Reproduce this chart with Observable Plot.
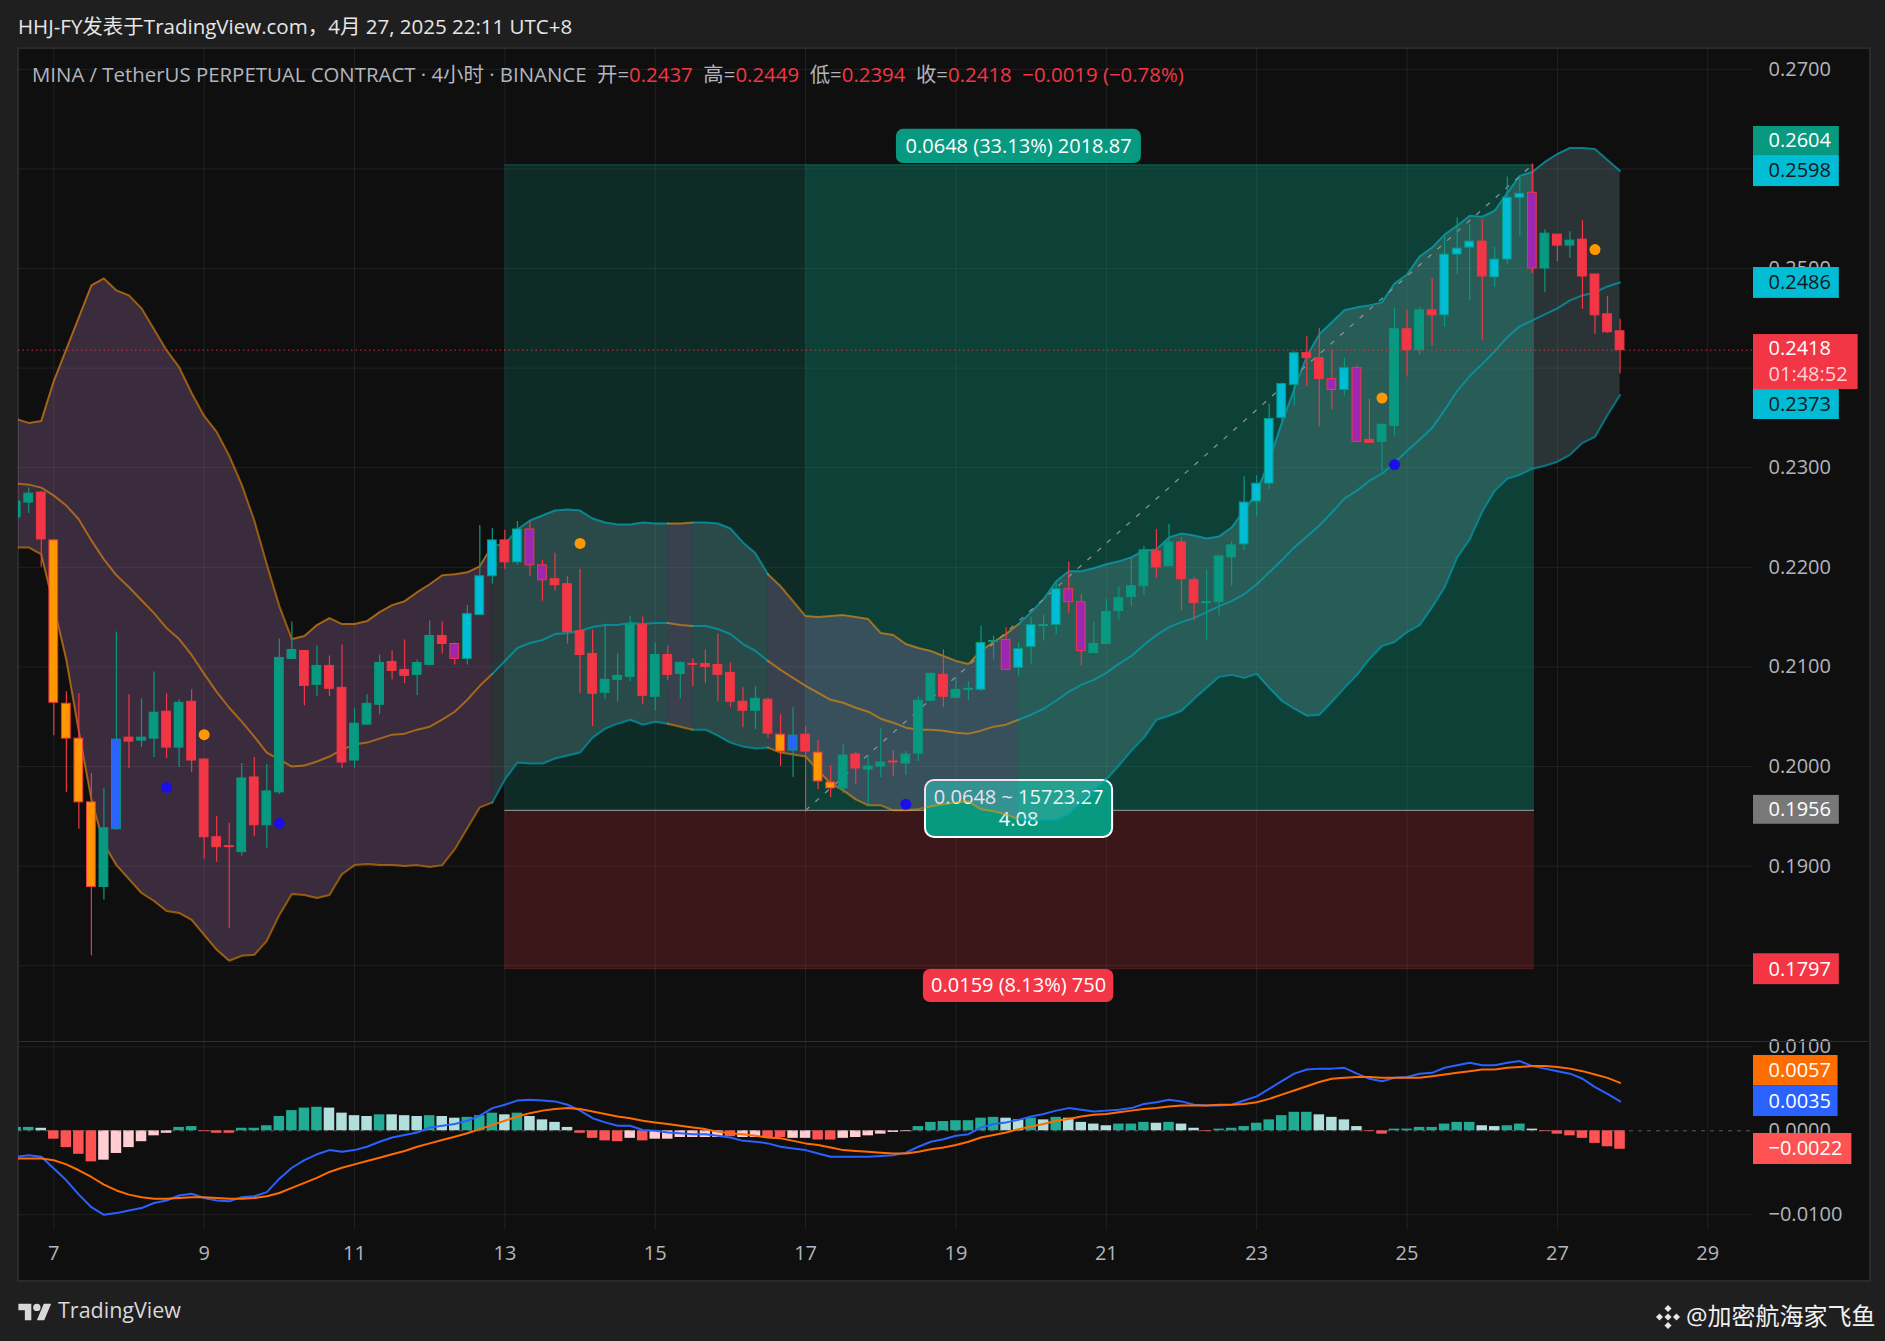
<!DOCTYPE html>
<html><head><meta charset="utf-8">
<script src="https://cdn.jsdelivr.net/npm/d3@7"></script>
<script src="https://cdn.jsdelivr.net/npm/@observablehq/plot@0.6"></script>
<style>
html,body{margin:0;padding:0;background:#1f1f1f;overflow:hidden}
#root{position:relative;width:1885px;height:1341px;background:#1f1f1f;font-family:"Open Sans","Noto Sans CJK SC",sans-serif}
#pane{position:absolute;left:17px;top:47px;width:1850px;height:1231px;background:#0f0f0f;border:2px solid #2a2a2a}
#root svg.plot-abs{position:absolute;left:0}
.txt{position:absolute;white-space:pre}
</style></head><body>
<div id="root"><div id="pane"></div></div>
<script>
// index 0 = 00:00 on the 7th, one step = one 4-hour candle; first candle is index -3
const firstIndex = -3;
const high = [
.2266,.2280,.2276,.2228,.2075,.2073,.1993,.1978,.2135,.2072,
.2068,.2095,.2073,.2067,.2077,.2007,.1950,.1943,.2003,.2009,
.2002,.2128,.2145,.2116,.2121,.2111,.2122,.2058,.2072,.2112,
.2116,.2127,.2107,.2146,.2145,.2124,.2162,.2242,.2239,.2237,
.2246,.2246,.2207,.2214,.2191,.2198,.2137,.2143,.2113,.2151,
.2150,.2124,.2121,.2105,.2108,.2117,.2133,.2104,.2079,.2080,
.2069,.2052,.2059,.2040,.2026,.2001,.2022,.2014,.2011,.2038,
.2016,.2015,.2070,.2094,.2117,.2089,.2085,.2141,.2131,.2139,
.2124,.2150,.2152,.2184,.2205,.2173,.2145,.2168,.2180,.2210,
.2221,.2238,.2243,.2230,.2190,.2197,.2211,.2226,.2291,.2292,
.2364,.2385,.2417,.2432,.2440,.2418,.2410,.2402,.2369,.2344,
.2460,.2458,.2461,.2490,.2533,.2551,.2544,.2549,.2521,.2592,
.2593,.2605,.2539,.2534,.2537,.2548,.2494,.2472,.2449];
const bodyTop = [
.2266,.2274,.2275,.2227,.2063,.2028,.1964,.1938,.2027,.2029,
.2029,.2054,.2055,.2064,.2065,.2007,.1929,.1920,.1988,.1989,
.1975,.2109,.2117,.2116,.2101,.2101,.2079,.2043,.2063,.2104,
.2105,.2097,.2104,.2131,.2131,.2123,.2153,.2191,.2227,.2227,
.2238,.2238,.2202,.2188,.2183,.2136,.2113,.2087,.2091,.2142,
.2142,.2112,.2112,.2104,.2103,.2103,.2102,.2094,.2065,.2068,
.2067,.2032,.2031,.2032,.2014,.1984,.2011,.2012,.2000,.2004,
.2005,.2012,.2066,.2093,.2092,.2077,.2078,.2124,.2126,.2127,
.2118,.2142,.2142,.2178,.2178,.2165,.2123,.2155,.2169,.2181,
.2217,.2216,.2225,.2225,.2187,.2165,.2211,.2222,.2265,.2284,
.2349,.2384,.2415,.2415,.2410,.2389,.2400,.2400,.2328,.2343,
.2439,.2439,.2458,.2458,.2514,.2520,.2527,.2527,.2509,.2571,
.2575,.2576,.2535,.2534,.2528,.2529,.2494,.2454,.2437];
const bodyBottom = [
.2250,.2265,.2228,.2064,.2028,.1964,.1879,.1879,.1937,.2025,
.2026,.2028,.2019,.2019,.2006,.1929,.1919,.1919,.1914,.1941,
.1941,.1974,.2108,.2081,.2082,.2078,.2004,.2006,.2042,.2062,
.2096,.2091,.2092,.2102,.2123,.2108,.2108,.2152,.2191,.2205,
.2205,.2202,.2187,.2182,.2135,.2112,.2073,.2074,.2087,.2090,
.2071,.2070,.2092,.2093,.2102,.2100,.2092,.2065,.2056,.2056,
.2033,.2015,.2016,.2015,.1985,.1978,.1978,.1998,.1997,.2000,
.2004,.2003,.2013,.2066,.2070,.2069,.2077,.2077,.2125,.2097,
.2099,.2120,.2141,.2142,.2165,.2116,.2114,.2123,.2156,.2170,
.2181,.2200,.2201,.2188,.2164,.2164,.2165,.2210,.2223,.2266,
.2284,.2350,.2383,.2410,.2389,.2378,.2378,.2326,.2325,.2326,
.2342,.2418,.2418,.2453,.2453,.2514,.2521,.2492,.2491,.2509,
.2571,.2500,.2500,.2523,.2523,.2492,.2453,.2436,.2418];
const low = [
.2250,.2254,.2200,.2031,.1974,.1937,.1810,.1866,.1936,.1998,
.2019,.2009,.2008,.1999,.1994,.1907,.1904,.1837,.1910,.1930,
.1918,.1972,.2108,.2061,.2070,.2070,.1998,.1998,.2042,.2052,
.2087,.2083,.2071,.2101,.2113,.2102,.2102,.2152,.2183,.2198,
.2202,.2191,.2166,.2176,.2123,.2073,.2040,.2067,.2065,.2085,
.2062,.2056,.2086,.2068,.2080,.2083,.2065,.2059,.2039,.2037,
.2028,.2000,.1989,.1954,.1977,.1969,.1973,.1982,.1961,.1989,
.1990,.1991,.2005,.2066,.2059,.2068,.2066,.2075,.2107,.2097,
.2091,.2103,.2126,.2132,.2154,.2101,.2114,.2123,.2147,.2161,
.2172,.2189,.2201,.2156,.2147,.2127,.2151,.2181,.2217,.2251,
.2278,.2347,.2362,.2381,.2341,.2358,.2372,.2325,.2325,.2296,
.2332,.2391,.2413,.2422,.2441,.2494,.2468,.2428,.2481,.2504,
.2532,.2495,.2476,.2507,.2510,.2459,.2434,.2435,.2394];
// g green, r red, o orange, b blue, c cyan, m purple
const candleKinds = (
 "g g r o o o o g b r "+
 "g g r g r r r r g r "+
 "g g g r g r r g g g "+
 "r r g g r m c c c r "+
 "c m m r r r r g g g "+
 "r g r g r r r r r g "+
 "r o b r o o g r g g "+
 "r g g g r g g c c m "+
 "c c g c m m g g g g "+
 "g r g r r g g g c c "+
 "c c c r r m c m r g "+
 "g r g r c c c r c c "+
 "c m g r g r r r r").trim().split(/\s+/);

const bandUpper = [
.2349,.2345,.2347,.2387,.2419,.2451,.2483,.2490,.2478,.2473,
.2460,.2439,.2418,.2401,.2375,.2352,.2336,.2312,.2283,.2247,
.2203,.2161,.2128,.2131,.2142,.2149,.2143,.2143,.2146,.2155,
.2162,.2166,.2175,.2183,.2192,.2193,.2195,.2201,.2222,.2223,
.2238,.2247,.2252,.2257,.2258,.2257,.2249,.2245,.2243,.2243,
.2245,.2244,.2244,.2244,.2245,.2245,.2244,.2239,.2225,.2214,
.2193,.2181,.2166,.2151,.2150,.2151,.2152,.2150,.2148,.2134,
.2132,.2123,.2119,.2116,.2111,.2106,.2103,.2116,.2125,.2133,
.2143,.2155,.2168,.2186,.2196,.2196,.2199,.2203,.2206,.2210,
.2217,.2218,.2230,.2234,.2232,.2229,.2231,.2240,.2257,.2275,
.2307,.2345,.2379,.2412,.2434,.2446,.2458,.2461,.2463,.2466,
.2485,.2494,.2512,.2521,.2534,.2543,.2553,.2552,.2558,.2576,
.2593,.2597,.2607,.2615,.2621,.2621,.2620,.2609,.2598];
const bandMid = [
.2284,.2283,.2280,.2272,.2262,.2248,.2227,.2208,.2192,.2180,
.2167,.2154,.2139,.2128,.2112,.2093,.2075,.2059,.2045,.2030,
.2014,.2007,.2000,.2001,.2005,.2010,.2017,.2022,.2024,.2028,
.2032,.2033,.2037,.2040,.2047,.2055,.2067,.2081,.2093,.2106,
.2119,.2124,.2127,.2133,.2134,.2136,.2140,.2142,.2142,.2144,
.2143,.2144,.2144,.2142,.2141,.2141,.2138,.2133,.2123,.2116,
.2106,.2097,.2089,.2081,.2074,.2067,.2064,.2059,.2055,.2048,
.2044,.2039,.2037,.2037,.2036,.2034,.2033,.2036,.2040,.2042,
.2047,.2052,.2058,.2066,.2075,.2082,.2087,.2094,.2103,.2111,
.2122,.2132,.2140,.2145,.2149,.2155,.2161,.2166,.2173,.2183,
.2195,.2207,.2220,.2231,.2242,.2255,.2269,.2277,.2287,.2294,
.2305,.2317,.2328,.2340,.2358,.2377,.2392,.2404,.2417,.2431,
.2442,.2448,.2454,.2460,.2468,.2473,.2476,.2482,.2486];
const bandLower = [
.2220,.2220,.2213,.2161,.2107,.2035,.1967,.1922,.1901,.1887,
.1873,.1865,.1855,.1853,.1846,.1831,.1816,.1805,.1810,.1811,
.1825,.1851,.1872,.1871,.1868,.1871,.1892,.1901,.1902,.1901,
.1901,.1900,.1901,.1899,.1901,.1917,.1938,.1959,.1964,.1987,
.2004,.2003,.2003,.2008,.2011,.2014,.2029,.2038,.2043,.2047,
.2042,.2045,.2043,.2040,.2037,.2037,.2031,.2024,.2020,.2018,
.2019,.2014,.2012,.2010,.1996,.1983,.1976,.1967,.1961,.1961,
.1956,.1956,.1957,.1960,.1962,.1964,.1965,.1957,.1955,.1952,
.1947,.1946,.1946,.1946,.1952,.1964,.1976,.1987,.2001,.2016,
.2029,.2047,.2051,.2056,.2068,.2079,.2090,.2092,.2089,.2093,
.2079,.2066,.2058,.2051,.2052,.2065,.2079,.2092,.2108,.2121,
.2125,.2135,.2142,.2160,.2180,.2210,.2228,.2256,.2277,.2289,
.2293,.2299,.2302,.2306,.2313,.2325,.2331,.2353,.2373];
// [first index, last index, state] of each colour run of the band
const bandRuns = [[-3,35,"warm"],[35,49,"cool"],[49,51,"warm"],[51,57,"cool"],[57,77,"warm"],[77,125,"cool"]];

const macdHist = [
.0004,.0004,.0003,-.0010,-.0020,-.0028,-.0037,-.0035,-.0027,-.0020,
-.0013,-.0006,-.0003,.0004,.0005,-.0001,-.0003,-.0003,.0003,.0003,
.0006,.0017,.0024,.0027,.0028,.0027,.0021,.0018,.0017,.0019,
.0019,.0018,.0017,.0018,.0017,.0015,.0016,.0018,.0021,.0019,
.0021,.0017,.0013,.0010,.0004,-.0003,-.0009,-.0012,-.0013,-.0009,
-.0012,-.0010,-.0010,-.0008,-.0008,-.0008,-.0008,-.0007,-.0008,-.0008,
-.0008,-.0008,-.0009,-.0009,-.0011,-.0011,-.0009,-.0008,-.0006,-.0004,
-.0002,-.0001,.0005,.0010,.0011,.0012,.0012,.0015,.0016,.0015,
.0013,.0015,.0013,.0016,.0015,.0010,.0008,.0006,.0008,.0008,
.0010,.0009,.0010,.0008,.0003,-.0001,.0002,.0003,.0005,.0009,
.0013,.0018,.0022,.0022,.0019,.0016,.0013,.0005,-.0001,-.0004,
.0002,.0002,.0004,.0004,.0008,.0010,.0010,.0006,.0005,.0006,
.0008,.0002,-.0001,-.0004,-.0006,-.0009,-.0015,-.0019,-.0022];
const histKinds = (
 "g g l r r r r p p p "+
 "p p p g g r r r g g "+
 "g g g g g l l l l g "+
 "l l l g l l g g g l "+
 "g l l l l r r r r p "+
 "r p p p p p p r p p "+
 "r r p p r r p p p p "+
 "p p g g g g g g g l "+
 "l g l g l l l l g g "+
 "g l g l l r g g g g "+
 "g g g g l l l l r r "+
 "g g g g g g g l l g "+
 "g l r r r r r r r").trim().split(/\s+/);
const macdLine = [
-.0031,-.0029,-.0031,-.0045,-.0059,-.0076,-.0091,-.0100,-.0098,-.0095,
-.0092,-.0086,-.0083,-.0077,-.0075,-.0080,-.0083,-.0084,-.0079,-.0078,
-.0073,-.0057,-.0044,-.0035,-.0028,-.0023,-.0025,-.0023,-.0019,-.0013,
-.0008,-.0005,-.0002,.0004,.0006,.0008,.0012,.0018,.0027,.0031,
.0036,.0037,.0036,.0035,.0031,.0024,.0015,.0010,.0006,.0006,
.0001,.0000,-.0002,-.0003,-.0004,-.0004,-.0006,-.0008,-.0012,-.0013,
-.0015,-.0019,-.0021,-.0023,-.0027,-.0031,-.0031,-.0031,-.0031,-.0030,
-.0029,-.0026,-.0019,-.0013,-.0010,-.0006,-.0004,.0004,.0008,.0010,
.0013,.0017,.0020,.0024,.0027,.0025,.0023,.0024,.0025,.0027,
.0032,.0034,.0037,.0035,.0031,.0030,.0030,.0031,.0036,.0041,
.0050,.0059,.0068,.0073,.0074,.0074,.0075,.0068,.0062,.0059,
.0063,.0064,.0068,.0069,.0075,.0078,.0081,.0078,.0078,.0081,
.0083,.0077,.0074,.0071,.0068,.0062,.0052,.0044,.0035];
const signalLine = [
-.0033,-.0033,-.0033,-.0035,-.0040,-.0047,-.0055,-.0064,-.0071,-.0076,
-.0079,-.0081,-.0081,-.0080,-.0079,-.0079,-.0080,-.0081,-.0081,-.0080,
-.0078,-.0074,-.0068,-.0062,-.0056,-.0049,-.0044,-.0040,-.0036,-.0032,
-.0028,-.0024,-.0019,-.0015,-.0011,-.0007,-.0003,.0002,.0007,.0012,
.0017,.0021,.0024,.0026,.0027,.0026,.0023,.0020,.0017,.0015,
.0012,.0010,.0008,.0006,.0004,.0002,-.0001,-.0003,-.0004,-.0006,
-.0008,-.0009,-.0012,-.0015,-.0017,-.0020,-.0023,-.0024,-.0025,-.0026,
-.0027,-.0027,-.0025,-.0022,-.0020,-.0017,-.0013,-.0008,-.0005,-.0002,
.0002,.0005,.0008,.0012,.0014,.0017,.0019,.0020,.0022,.0024,
.0026,.0027,.0029,.0030,.0030,.0030,.0031,.0031,.0032,.0034,
.0038,.0043,.0048,.0053,.0058,.0062,.0063,.0064,.0064,.0063,
.0063,.0063,.0063,.0065,.0067,.0069,.0071,.0073,.0073,.0075,
.0076,.0077,.0077,.0076,.0074,.0071,.0067,.0063,.0057];

const orangeSignals = [[12,.2032],[42,.2224],[106,.2370],[123,.2519]];
const blueSignals = [[9,.1979],[18,.1943],[68,.1962],[107,.2303]];

const targetPrice = .2604, entryPrice = .1956, stopPrice = .1797, lastPrice = .2418;
const positionStart = 36, positionMid = 60, positionEnd = 118.17;

const priceTicks = [.18,.19,.20,.21,.22,.23,.24,.25,.26,.27];
const priceLabelTicks = [.19,.20,.21,.22,.23,.25,.27];
const macdTicks = [.01,0,-.01];
const dayTicks = [0,12,24,36,48,60,72,84,96,108,120,132];

const priceChips = [
 {t:"0.2604",a:.26426,b:.26135,fill:"#089981",ink:"#ffffff"},
 {t:"0.2598",a:.26135,b:.25823,fill:"#00bcd4",ink:"#131722"},
 {t:"0.2486",a:.25010,b:.24700,fill:"#00bcd4",ink:"#131722"},
 {t:"0.2373",a:.23785,b:.23484,fill:"#00bcd4",ink:"#131722"},
 {t:"0.1956",a:.19710,b:.19420,fill:"#787878",ink:"#ffffff"},
 {t:"0.1797",a:.18120,b:.17810,fill:"#f23645",ink:"#ffffff"}
];
const macdChips = [
 {t:"0.0057",a:.00896,b:.00532,fill:"#ff6d00",ink:"#ffffff",r:142.4},
 {t:"0.0035",a:.00527,b:.00170,fill:"#2962ff",ink:"#ffffff",r:142.4},
 {t:"\u22120.0022",a:-.00032,b:-.00401,fill:"#ff5252",ink:"#ffffff",r:143.5}
];

// ---- geometry shared by both panes
const xLeft = -2.817, xRight = 135.65, chipL = 135.65, chipR = 142.5, chipText = 136.85;
const W = 1885;
const bars = high.map((h,k)=>({i:k+firstIndex,high:h,top:bodyTop[k],bottom:bodyBottom[k],low:low[k],kind:candleKinds[k]}));
const bodyFill = {g:"#089981",r:"#f23645",o:"#ff9800",b:"#2962ff",c:"#00bcd4",m:"#9c27b0"};
const bodyEdge = {g:"#089981",r:"#f23645",o:"#f23645",b:"#089981",c:"#089981",m:"#f23645"};
const histFill = {g:"#22ab94",l:"#b2dfdb",r:"#ff5252",p:"#ffcdd2"};
const bandRows = bandRuns.flatMap(([a,b,s],n)=>bandUpper.map((u,k)=>({i:k+firstIndex,u,m:bandMid[k],l:bandLower[k],run:n,state:s})).filter(d=>d.i>=a&&d.i<=b));
const warm = d=>d.state==="warm"?"#ff9800":"#00a5b8";
const bandLineOpacity = d=>d.state==="warm"?.55:.68;
const gridStroke = "#ffffff";
const fontFamily = '"Open Sans","Noto Sans CJK SC",sans-serif';

const mainPlot = Plot.plot({
  width:W,height:994,marginTop:0,marginBottom:0,marginLeft:18,marginRight:132,
  x:{domain:[xLeft,xRight],axis:null},
  y:{domain:[.17229,.27209]},
  color:{type:"identity"},
  style:{background:"transparent",fontFamily,fontSize:"20px",overflow:"visible"},
  marks:[
    Plot.ruleY(priceTicks,{x1:xLeft,x2:xRight,stroke:gridStroke,strokeOpacity:.075}),
    Plot.ruleX(dayTicks,{stroke:gridStroke,strokeOpacity:.075}),
    // position zones
    Plot.rect([0],{x1:()=>positionStart,x2:()=>positionEnd,y1:()=>entryPrice,y2:()=>targetPrice,fill:"#089981",fillOpacity:.2}),
    Plot.rect([0],{x1:()=>positionMid,x2:()=>positionEnd,y1:()=>entryPrice,y2:()=>targetPrice,fill:"#089981",fillOpacity:.2}),
    Plot.rect([0],{x1:()=>positionStart,x2:()=>positionEnd,y1:()=>stopPrice,y2:()=>entryPrice,fill:"#f23645",fillOpacity:.2}),
    Plot.ruleY([targetPrice],{x1:positionStart,x2:positionEnd,stroke:"#089981",strokeOpacity:.45}),
    Plot.ruleY([stopPrice],{x1:positionStart,x2:positionEnd,stroke:"#f23645",strokeOpacity:.3}),
    Plot.ruleY([entryPrice],{x1:positionStart,x2:positionEnd,stroke:"#7f8a88",strokeWidth:1.2}),
    // position labels
    Plot.rect([0],{x1:()=>67.25,x2:()=>86.8,y1:()=>.26397,y2:()=>.26055,fill:"#089981",rx:7}),
    Plot.text(["0.0648 (33.13%) 2018.87"],{x:77,y:.26228,text:d=>d,fill:"#fff",fontSize:20}),
    Plot.rect([0],{x1:()=>69.4,x2:()=>84.6,y1:()=>.17962,y2:()=>.17631,fill:"#f23645",rx:7}),
    Plot.text(["0.0159 (8.13%) 750"],{x:77,y:.17797,text:d=>d,fill:"#fff",fontSize:20}),
    Plot.rect([0],{x1:()=>69.57,x2:()=>84.5,y1:()=>.19860,y2:()=>.19288,fill:"#089981",stroke:"#fff",strokeWidth:2,rx:9}),
    Plot.text(["0.0648 ~ 15723.27"],{x:77,y:.19685,text:d=>d,fill:"#fff",fontSize:20}),
    Plot.text(["4.08"],{x:77,y:.19465,text:d=>d,fill:"#fff",fontSize:20}),
    // Bollinger band
    Plot.areaY(bandRows,{x:"i",y1:"l",y2:"u",z:"run",fill:d=>d.state==="warm"?"#bb7fc7":"#96c8d2",fillOpacity:d=>d.state==="warm"?.25:.2,clip:true}),
    Plot.line(bandRows,{x:"i",y:"u",z:"run",stroke:warm,strokeOpacity:bandLineOpacity,strokeWidth:2,clip:true}),
    Plot.line(bandRows,{x:"i",y:"m",z:"run",stroke:warm,strokeOpacity:bandLineOpacity,strokeWidth:2,clip:true}),
    Plot.line(bandRows,{x:"i",y:"l",z:"run",stroke:warm,strokeOpacity:bandLineOpacity,strokeWidth:2,clip:true}),
    // diagonal of the position tool
    Plot.link([0],{x1:()=>positionMid,x2:()=>118,y1:()=>entryPrice,y2:()=>targetPrice,stroke:"#8f9694",strokeWidth:1.2,strokeDasharray:"5 8"}),
    // candles
    Plot.ruleX(bars,{x:"i",y1:"low",y2:"high",stroke:d=>bodyEdge[d.kind],strokeWidth:1.2,clip:true}),
    Plot.rect(bars,{x1:d=>d.i-.35,x2:d=>d.i+.35,y1:"bottom",y2:"top",fill:d=>bodyFill[d.kind],stroke:d=>bodyEdge[d.kind],strokeWidth:1,clip:true}),
    // signal dots
    Plot.dot(orangeSignals,{x:d=>d[0],y:d=>d[1],r:5.5,fill:"#ff9800"}),
    Plot.dot(blueSignals,{x:d=>d[0],y:d=>d[1],r:5.5,fill:"#1a0fe8"}),
    // last-price line
    Plot.ruleY([lastPrice],{x1:xLeft,x2:xRight,stroke:"#f23645",strokeWidth:1,strokeDasharray:"1.5 3",strokeOpacity:.85}),
    // axis and chips
    Plot.axisY(priceLabelTicks,{anchor:"right",tickSize:0,tickPadding:15,tickFormat:d=>d.toFixed(4),color:"#b2b5be",label:null}),
    Plot.rect(priceChips,{x1:()=>chipL,x2:()=>chipR,y1:"a",y2:"b",fill:"fill"}),
    Plot.text(priceChips,{x:chipText,y:d=>(d.a+d.b)/2,text:"t",fill:"ink",textAnchor:"start"}),
    Plot.rect([0],{x1:()=>chipL,x2:()=>144,y1:()=>.24337,y2:()=>.23785,fill:"#f23645"}),
    Plot.text(["0.2418"],{x:chipText,y:.24195,text:d=>d,fill:"#fff",textAnchor:"start"}),
    Plot.text(["01:48:52"],{x:chipText,y:.23935,text:d=>d,fill:"#ffd0d4",textAnchor:"start"})
  ]
});
mainPlot.classList.add("plot-abs");
mainPlot.style.top="48px";

const series = macdLine.map((v,k)=>({i:k+firstIndex,macd:v,signal:signalLine[k],hist:macdHist[k],kind:histKinds[k]}));
const macdPlot = Plot.plot({
  width:W,height:237,marginTop:0,marginBottom:49,marginLeft:18,marginRight:132,
  x:{domain:[xLeft,xRight]},
  y:{domain:[-.01187,.01051]},
  color:{type:"identity"},
  style:{background:"transparent",fontFamily,fontSize:"20px",overflow:"visible"},
  marks:[
    Plot.ruleY([.01,-.01],{x1:xLeft,x2:xRight,stroke:gridStroke,strokeOpacity:.075}),
    Plot.ruleX(dayTicks,{stroke:gridStroke,strokeOpacity:.075}),
    Plot.rect(series,{x1:d=>d.i-.42,x2:d=>d.i+.42,y1:()=>0,y2:"hist",fill:d=>histFill[d.kind],clip:true}),
    Plot.ruleY([0],{x1:xLeft,x2:xRight,stroke:"#787b86",strokeOpacity:.7,strokeDasharray:"4 5"}),
    Plot.line(series,{x:"i",y:"macd",stroke:"#2962ff",strokeWidth:2,clip:true}),
    Plot.line(series,{x:"i",y:"signal",stroke:"#ff6d00",strokeWidth:2,clip:true}),
    Plot.axisX(dayTicks,{anchor:"bottom",tickSize:0,tickPadding:15,tickFormat:d=>String(7+d/6),color:"#b2b5be",label:null}),
    Plot.axisY(macdTicks,{anchor:"right",tickSize:0,tickPadding:15,tickFormat:d=>d<0?"\u2212"+(-d).toFixed(4):d.toFixed(4),color:"#b2b5be",label:null}),
    Plot.rect(macdChips,{x1:()=>chipL,x2:"r",y1:"a",y2:"b",fill:"fill"}),
    Plot.text(macdChips,{x:chipText,y:d=>(d.a+d.b)/2,text:"t",fill:"ink",textAnchor:"start"})
  ]
});
macdPlot.classList.add("plot-abs");
macdPlot.style.top="1042px";

const root = document.getElementById("root");
root.append(mainPlot, macdPlot);

// divider between panes
const divider = document.createElement("div");
divider.style.cssText="position:absolute;left:18px;top:1041px;width:1850px;height:1px;background:#2f2f2f";
root.append(divider);

function addText(html,css){const e=document.createElement("div");e.className="txt";e.style.cssText=css;e.innerHTML=html;root.append(e);return e}
addText("HHJ-FY发表于TradingView.com，4月 27, 2025 22:11 UTC+8","left:18px;top:10px;font-size:20.5px;color:#e6e6e6;");
const red=s=>`<span style="color:#f23645">${s}</span>`;
addText(`MINA / TetherUS PERPETUAL CONTRACT · 4小时 · BINANCE  开=${red("0.2437")}  高=${red("0.2449")}  低=${red("0.2394")}  收=${red("0.2418")}  ${red("−0.0019 (−0.78%)")}`,"left:32px;top:58px;font-size:20.4px;color:#b2b5be;");
addText("TradingView","left:58px;top:1295px;font-size:21.5px;color:#d8d8d8;");
addText("@加密航海家飞鱼","left:1686px;top:1297px;font-size:24px;color:#f0f0f0;");
const logo=document.createElement("div");
logo.style.cssText="position:absolute;left:18px;top:1300px";
logo.innerHTML='<svg width="34" height="24" viewBox="0 0 36 26"><path fill="#d8d8d8" d="M14 22H7V11H0V4h14v18zM28 22h-8l7.5-18h8L28 22z"/><circle fill="#d8d8d8" cx="20" cy="8" r="4"/></svg>';
root.append(logo);
const bin=document.createElement("div");
bin.style.cssText="position:absolute;left:1655px;top:1304px";
bin.innerHTML='<svg width="26" height="26" viewBox="0 0 26 26"><g fill="#e8e8e8"><rect x="10.5" y="2" width="5" height="5" transform="rotate(45 13 4.5)"/><rect x="10.5" y="19" width="5" height="5" transform="rotate(45 13 21.5)"/><rect x="2" y="10.5" width="5" height="5" transform="rotate(45 4.5 13)"/><rect x="19" y="10.5" width="5" height="5" transform="rotate(45 21.5 13)"/><rect x="10.5" y="10.5" width="5" height="5" transform="rotate(45 13 13)"/></g></svg>';
root.append(bin);
</script>
</body></html>
